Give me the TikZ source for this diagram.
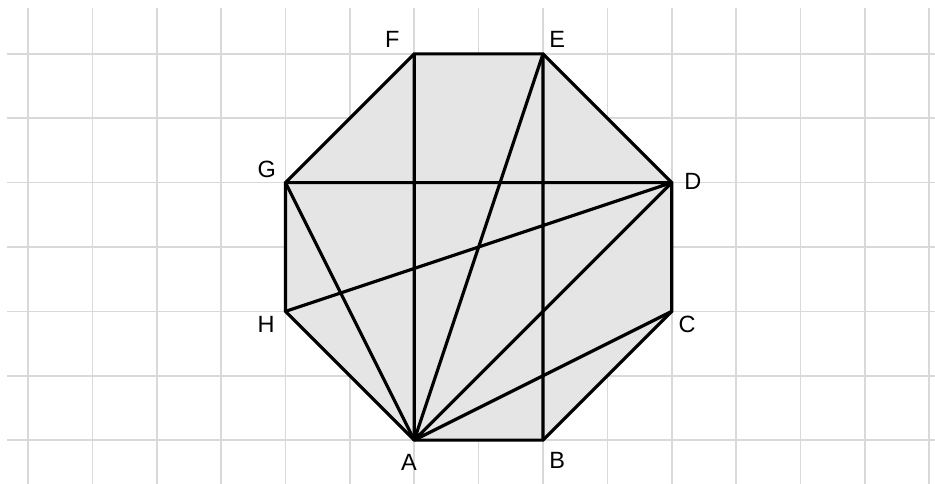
\documentclass[tikz,border=0pt]{standalone}
\usepackage{fontspec}
\setmainfont{Liberation Sans}
\begin{document}
\begin{tikzpicture}[x=64.36bp,y=64.36bp,
  grid line/.style={draw=black!15,line width=1.6bp},
  edge/.style={line width=3.2bp},
  lbl/.style={font=\fontsize{23.5bp}{26bp}\selectfont,inner sep=0pt}]
  \useasboundingbox (-0.435,-0.668) rectangle (14.09,6.837);
  \foreach \i in {0,...,14} \draw[grid line] (\i,-0.7)--(\i,6.71);
  \foreach \j in {0,...,6} \draw[grid line] (-0.33,\j)--(14.2,\j);
  \coordinate (A) at (6,0); \coordinate (B) at (8,0); \coordinate (C) at (10,2); \coordinate (D) at (10,4);
  \coordinate (E) at (8,6); \coordinate (F) at (6,6); \coordinate (G) at (4,4); \coordinate (H) at (4,2);
  \fill[black!10] (A)--(B)--(C)--(D)--(E)--(F)--(G)--(H)--cycle;
  \draw[edge] (A)--(F) (B)--(E) (G)--(D) (H)--(D);
  \draw[edge] (A)--(G) (A)--(E) (A)--(D) (A)--(C);
  \draw[edge] (A)--(B)--(C)--(D)--(E)--(F)--(G)--(H)--cycle;
  \node[lbl] (lA) at (5.92,-0.34) {A}; \node[lbl] (lB) at (8.22,-0.31) {B};
  \node[lbl] (lC) at (10.24,1.80) {C}; \node[lbl] (lD) at (10.33,4.02) {D};
  \node[lbl] (lE) at (8.22,6.22) {E}; \node[lbl] (lF) at (5.66,6.22) {F};
  \node[lbl] (lG) at (3.71,4.21) {G}; \node[lbl] (lH) at (3.70,1.79) {H};
\end{tikzpicture}
\end{document}
